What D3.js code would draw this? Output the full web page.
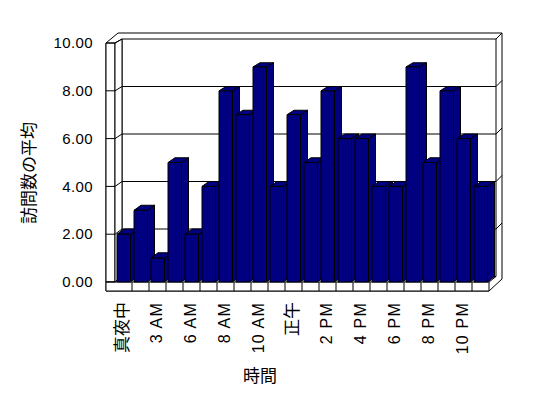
<!DOCTYPE html>
<html>
<head>
<meta charset="utf-8">
<script src="https://cdn.jsdelivr.net/npm/d3@7"></script>
<style>
  body { margin: 0; background: #fff; }
  text { fill: #000; }
</style>
</head>
<body>
<div id="chart"></div>
<script>
// hours (0-23, two early hours missing in the source sheet)
var hours = ["真夜中", "1 AM", "3 AM", "4 AM", "6 AM", "7 AM", "8 AM", "9 AM", "10 AM", "11 AM",
             "正午", "1 PM", "2 PM", "3 PM", "4 PM", "5 PM", "6 PM", "7 PM", "8 PM", "9 PM", "10 PM", "11 PM"];
var visits = [2, 3, 1, 5, 2, 4, 8, 7, 9, 4, 7, 5, 8, 6, 6, 4, 4, 9, 5, 8, 6, 4];
var yTicks = [0, 2, 4, 6, 8, 10];
var yTitle = "訪問数の平均";
var xTitle = "時間";

var W = 548, H = 398;
var svg = d3.select("#chart").append("svg")
  .attr("width", W)
  .attr("height", H);

// front plane and back wall (3D depth offset)
var dx = 7;
var x = d3.scaleBand()
  .domain(hours)
  .range([115, 489]);
var yF = d3.scaleLinear().domain([0, 10]).range([282, 43]);
var yB = d3.scaleLinear().domain([0, 10]).range([276.5, 39]);

var line = function(pts) {
  svg.append("path")
    .attr("d", d3.line()(pts))
    .attr("fill", "none")
    .attr("stroke", "#000")
    .attr("stroke-width", 1);
};
var poly = function(pts, fill) {
  svg.append("path")
    .attr("d", d3.line()(pts) + "Z")
    .attr("fill", fill)
    .attr("stroke", "#000")
    .attr("stroke-width", 1)
    .attr("stroke-linejoin", "miter");
};

var x0 = x.range()[0], x1 = x.range()[1];

// outer frame of the walls
poly([[106, yF(10)], [118, yB(10) - 6], [x1 + 2 * dx - 1, yB(10) - 6], [x1 + 2 * dx - 1, yF(0) + 9 - 12], [x1, yF(0) + 9], [106, yF(0) + 9]], "#fff");
// back wall face
poly([[x0 + dx, yB(10)], [x1 + dx, yB(10)], [x1 + dx, yB(0)], [x0 + dx, yB(0)]], "#fff");
line([[x1 + dx, yB(10)], [x1 + 2 * dx - 1, yB(10) - 6]]);
// left wall
poly([[106, yF(10)], [x0, yF(10)], [x0, yF(0)], [106, yF(0)]], "#fff");
poly([[x0, yF(10)], [x0 + dx, yB(10)], [x0 + dx, yB(0)], [x0, yF(0)]], "#fff");
// floor
poly([[106, yF(0)], [x1, yF(0)], [x1, yF(0) + 9], [106, yF(0) + 9]], "#fff");
line([[x1, yF(0)], [x1 + dx, yB(0)]]);
hours.slice(1).forEach(function(h) {
  line([[x(h), yF(0)], [x(h), yF(0) + 9]]);
});

// gridlines
yTicks.slice(1, -1).forEach(function(t) {
  line([[x0 + dx, yB(t)], [x1 + dx, yB(t)]]);
  line([[x1 + dx, yB(t)], [x1 + 2 * dx - 1, yB(t) - 6]]);
});
yTicks.forEach(function(t) {
  line([[106, yF(t)], [x0, yF(t)], [x0 + dx, yB(t)]]);
});

// bars
var bw = 13.5, off = 2;
visits.forEach(function(v, i) {
  var bx0 = x(hours[i]) + off, bx1 = bx0 + bw;
  var top = yF(v), topB = yB(v), bot = yF(0), botB = yB(0);
  poly([[bx1, top], [bx1 + dx, topB], [bx1 + dx, botB], [bx1, bot]], "#000080");
  poly([[bx0, top], [bx1, top], [bx1 + dx, topB], [bx0 + dx, topB]], "#000080");
  poly([[bx0, top], [bx1, top], [bx1, bot], [bx0, bot]], "#000080");
});

// y tick labels
svg.selectAll(".ylab")
  .data(yTicks)
  .enter()
  .append("text")
  .attr("x", 93)
  .attr("y", function(d) { return yF(d); })
  .attr("dy", "0.35em")
  .attr("text-anchor", "end")
  .style("font-family", "'Liberation Sans', Arial, sans-serif")
  .style("font-size", "15px")
  .style("letter-spacing", "0.4px")
  .text(function(d) { return d.toFixed(2); });

// x tick labels, every second hour
svg.selectAll(".xlab")
  .data(hours.filter(function(d, i) { return i % 2 == 0; }))
  .enter()
  .append("text")
  .attr("transform", function(d) {
    return "translate(" + (x(d) + x.bandwidth() / 2 - 1) + ",302) rotate(-90)";
  })
  .attr("dy", "0.35em")
  .attr("text-anchor", "end")
  .style("font-family", function(d) { return /[A-Z]/.test(d) ? "'Liberation Sans', Arial, sans-serif" : "'Noto Sans CJK JP', sans-serif"; })
  .style("font-size", function(d) { return /[A-Z]/.test(d) ? "16px" : "17px"; })
  .style("letter-spacing", function(d) { return /[A-Z]/.test(d) ? "1.2px" : "0px"; })
  .text(function(d) { return d; });

// axis titles
svg.append("text")
  .attr("transform", "translate(29,173) rotate(-90)")
  .attr("dy", "0.35em")
  .attr("text-anchor", "middle")
  .style("font-family", "'Noto Sans CJK JP', sans-serif")
  .style("font-size", "17px")
  .text(yTitle);

svg.append("text")
  .attr("x", 260)
  .attr("y", 376)
  .attr("dy", "0.35em")
  .attr("text-anchor", "middle")
  .style("font-family", "'Noto Sans CJK JP', sans-serif")
  .style("font-size", "17px")
  .text(xTitle);
</script>
</body>
</html>
